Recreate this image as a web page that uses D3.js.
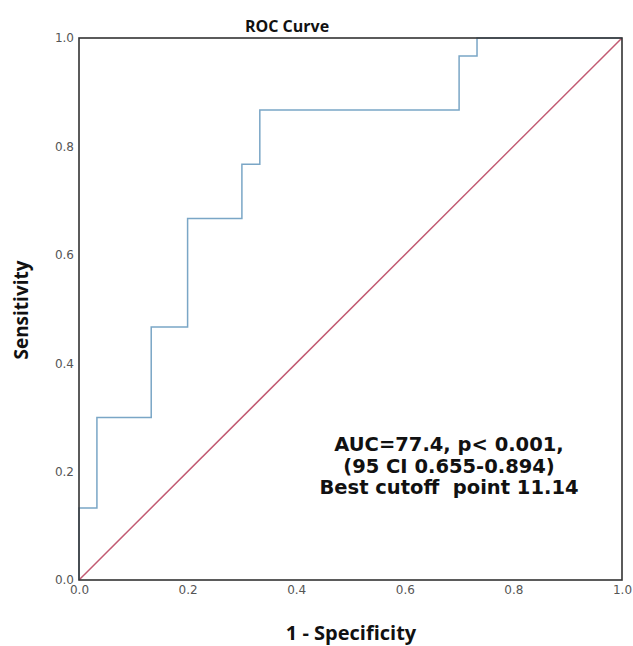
<!DOCTYPE html>
<html>
<head>
<meta charset="utf-8">
<script src="https://cdn.jsdelivr.net/npm/d3@7"></script>
<style>
  body { margin: 0; background: #fff; }
  text { font-family: "Open Sans", sans-serif; }
  .tick text { fill: #555; font-size: 12px; font-family: "DejaVu Sans", sans-serif; }
  .lbl { font-weight: 700; fill: #111; }
  .note { font-family: "DejaVu Sans", sans-serif; font-weight: 700; fill: #111; white-space: pre; }
</style>
</head>
<body>
<svg id="chart" width="633" height="646"></svg>
<script>
// ROC coordinates (1 - specificity, sensitivity)
const fpr = [0, 0, 0.033, 0.033, 0.133, 0.133, 0.2, 0.2, 0.3, 0.3, 0.333, 0.333, 0.7, 0.7, 0.733, 0.733, 1];
const tpr = [0, 0.133, 0.133, 0.3, 0.3, 0.467, 0.467, 0.667, 0.667, 0.767, 0.767, 0.867, 0.867, 0.967, 0.967, 1, 1];
const refLine = [0, 1];
const ticks = [0, 0.2, 0.4, 0.6, 0.8, 1.0];
const noteLines = ["AUC=77.4, p< 0.001,", "(95 CI 0.655-0.894)", "Best cutoff  point 11.14"];

const svg = d3.select("#chart");
const margin = {left: 79, right: 11, top: 38, bottom: 66};
const W = 633, H = 646;

const x = d3.scaleLinear().domain([0, 1]).range([margin.left, W - margin.right]);
const y = d3.scaleLinear().domain([0, 1]).range([H - margin.bottom, margin.top]);

// axes (labels only, no visible tick marks)
svg.append("g")
    .attr("transform", `translate(0,${y(0)})`)
    .call(d3.axisBottom(x).tickValues(ticks).tickFormat(d3.format(".1f")).tickSize(0).tickPadding(5))
    .call(g => g.select(".domain").remove());

svg.append("g")
    .attr("transform", `translate(${x(0)},0)`)
    .call(d3.axisLeft(y).tickValues(ticks).tickFormat(d3.format(".1f")).tickSize(0).tickPadding(5))
    .call(g => g.select(".domain").remove());

// reference diagonal
svg.append("line")
    .attr("x1", x(refLine[0])).attr("y1", y(refLine[0]))
    .attr("x2", x(refLine[1])).attr("y2", y(refLine[1]))
    .attr("stroke", "#c25a72")
    .attr("stroke-width", 1.5);

// ROC curve
const line = d3.line().x(d => x(d[0])).y(d => y(d[1]));
svg.append("path")
    .datum(fpr.map((f, i) => [f, tpr[i]]))
    .attr("d", line)
    .attr("fill", "none")
    .attr("stroke", "#7aa6c6")
    .attr("stroke-width", 1.5);

// frame
svg.append("rect")
    .attr("x", x(0)).attr("y", y(1))
    .attr("width", x(1) - x(0)).attr("height", y(0) - y(1))
    .attr("fill", "none")
    .attr("stroke", "#333")
    .attr("stroke-width", 1.6);

// title and axis titles
svg.append("text").attr("class", "lbl")
    .attr("x", 287).attr("y", 32)
    .attr("text-anchor", "middle").attr("font-size", 16)
    .text("ROC Curve");

svg.append("text").attr("class", "lbl")
    .attr("x", 351).attr("y", 640)
    .attr("text-anchor", "middle").attr("font-size", 20)
    .text("1 - Specificity");

svg.append("text").attr("class", "lbl")
    .attr("transform", "translate(28,310) rotate(-90)")
    .attr("text-anchor", "middle").attr("font-size", 19)
    .text("Sensitivity");

// annotation
svg.append("text").attr("class", "note")
    .attr("text-anchor", "middle").attr("font-size", 19.5)
    .selectAll("tspan")
    .data(noteLines)
    .join("tspan")
    .attr("x", 449)
    .attr("y", (d, i) => 451 + i * 21.5)
    .text(d => d);
</script>
</body>
</html>
